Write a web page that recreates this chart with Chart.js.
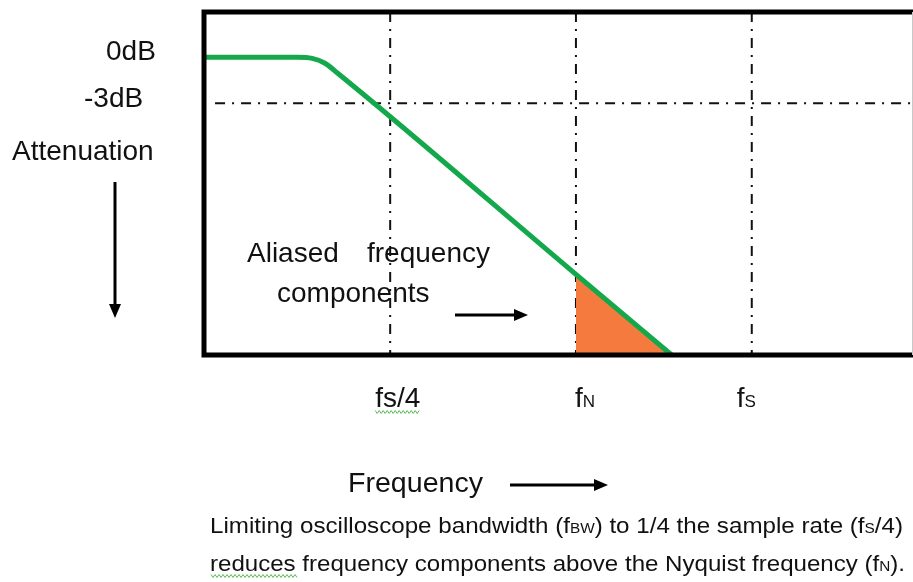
<!DOCTYPE html>
<html>
<head>
<meta charset="utf-8">
<script src="https://cdn.jsdelivr.net/npm/chart.js@4.4.1/dist/chart.umd.min.js"></script>
<style>
  html, body { margin: 0; padding: 0; background: #fff; }
  canvas { display: block; }
</style>
</head>
<body>
<canvas id="chart" width="913" height="582"></canvas>
<script>
// data (x: frequency in arbitrary units, y: attenuation in dB)
const freqTicks = [26.4, 52.6, 77.4];          // fs/4, fN, fs
const tickLabels = ["fs/4", "f{N}", "f{S}"];
const responseX = [0, 13.3, 15.4, 17.2, 19, 52.6, 66.1];
const responseDb = [0, 0, -0.07, -0.39, -1.04, -14.15, -19.4];
const aliasX = [52.6, 66.1];
const aliasDb = [-14.15, -19.4];
const cutoffDb = -3;
const levelLabels = ["0dB", "-3dB"];
const yMin = -19.4, yMax = 2.95;

const FONT = '"Liberation Sans", Arial, sans-serif';
const GREEN = "#13a84b";
const ORANGE = "#f47b3d";

const toPts = (xs, ys) => xs.map((x, i) => ({ x: x, y: ys[i] }));

// text with {small} parts, optionally squeezed to a width
function drawRich(ctx, str, x, y, big, small, width) {
  const runs = [];
  str.split(/(\{[^}]*\})/).forEach(s => {
    if (!s) return;
    if (s[0] === "{") runs.push({ t: s.slice(1, -1), size: small });
    else runs.push({ t: s, size: big });
  });
  let total = 0;
  runs.forEach(r => {
    ctx.font = r.size + "px " + FONT;
    r.w = ctx.measureText(r.t).width;
    total += r.w;
  });
  ctx.save();
  ctx.translate(x, y);
  if (width) ctx.scale(width / total, 1);
  let cx = 0;
  runs.forEach(r => {
    ctx.font = r.size + "px " + FONT;
    ctx.fillText(r.t, cx, 0);
    cx += r.w;
  });
  ctx.restore();
  return width || total;
}

function squiggle(ctx, x0, x1, y) {
  ctx.save();
  ctx.strokeStyle = "#5cb85c";
  ctx.lineWidth = 1;
  ctx.beginPath();
  for (let x = x0, k = 0; x <= x1; x += 2, k++) {
    const yy = y + (k % 2 ? 1.5 : -1.5);
    if (k === 0) ctx.moveTo(x, yy); else ctx.lineTo(x, yy);
  }
  ctx.stroke();
  ctx.restore();
}

function arrow(ctx, x0, y0, x1, y1) {
  const a = Math.atan2(y1 - y0, x1 - x0);
  ctx.save();
  ctx.strokeStyle = "#000";
  ctx.fillStyle = "#000";
  ctx.lineWidth = 3;
  ctx.beginPath();
  ctx.moveTo(x0, y0);
  ctx.lineTo(x1 - 12 * Math.cos(a), y1 - 12 * Math.sin(a));
  ctx.stroke();
  ctx.translate(x1, y1);
  ctx.rotate(a);
  ctx.beginPath();
  ctx.moveTo(0, 0);
  ctx.lineTo(-14, -6);
  ctx.lineTo(-14, 6);
  ctx.closePath();
  ctx.fill();
  ctx.restore();
}

const decorations = {
  id: "decorations",
  afterDraw(chart) {
    const ctx = chart.ctx;
    const area = chart.chartArea;
    const xs = chart.scales.x;

    // frame
    ctx.save();
    ctx.strokeStyle = "#000";
    ctx.lineWidth = 5;
    ctx.beginPath();
    ctx.moveTo(913, area.top);
    ctx.lineTo(area.left + 1, area.top);
    ctx.lineTo(area.left + 1, area.bottom);
    ctx.lineTo(913, area.bottom);
    ctx.stroke();
    ctx.strokeStyle = "#c8c8c8";
    ctx.lineWidth = 1;
    ctx.beginPath();
    ctx.moveTo(912.5, area.top);
    ctx.lineTo(912.5, area.bottom);
    ctx.stroke();
    ctx.restore();

    ctx.save();
    ctx.fillStyle = "#111";
    ctx.textBaseline = "alphabetic";

    // left side labels
    ctx.font = "28px " + FONT;
    ctx.fillText(levelLabels[0], 106, 60);
    ctx.fillText(levelLabels[1], 84, 107);
    ctx.fillText("Attenuation", 12, 160);
    arrow(ctx, 115, 182, 115, 318);

    // annotation
    ctx.fillText("Aliased", 247, 262);
    ctx.fillText("frequency", 367, 262);
    ctx.fillText("components", 277, 302);
    arrow(ctx, 455, 315, 528, 315);

    // frequency tick labels
    const dx = [-15, -1, -15];
    freqTicks.forEach((v, i) => {
      const px = xs.getPixelForValue(v) + dx[i];
      const w = drawRich(ctx, tickLabels[i], px, 407, 28, 17);
      if (i === 0) squiggle(ctx, px, px + w, 412);
    });

    // x axis title
    drawRich(ctx, "Frequency", 348, 492, 28, 17, 135);
    arrow(ctx, 510, 485, 608, 485);

    // caption
    drawRich(ctx, "Limiting oscilloscope bandwidth (f{BW}) to 1/4 the sample rate (f{S}/4)",
      210, 533, 22, 14, 693);
    drawRich(ctx, "reduces frequency components above the Nyquist frequency (f{N}).",
      210, 571, 22, 14, 695);
    squiggle(ctx, 211, 297, 576);
    ctx.restore();
  }
};

const dash = { borderColor: "#111", borderWidth: 2, borderDash: [10, 7, 2, 7], pointRadius: 0, fill: false };

new Chart(document.getElementById("chart"), {
  type: "line",
  data: {
    datasets: [
      {
        data: toPts(responseX, responseDb),
        borderColor: GREEN,
        borderWidth: 5,
        borderCapStyle: "round",
        cubicInterpolationMode: "monotone",
        pointRadius: 0,
        fill: false
      },
      {
        data: toPts(aliasX, aliasDb),
        borderWidth: 0,
        borderColor: ORANGE,
        backgroundColor: ORANGE,
        pointRadius: 0,
        fill: { value: yMin }
      },
      ...freqTicks.map(v => Object.assign({ data: [{ x: v, y: yMax }, { x: v, y: yMin }] }, dash)),
      Object.assign({ data: [{ x: 1.7, y: cutoffDb }, { x: 100, y: cutoffDb }] }, dash)
    ]
  },
  options: {
    responsive: false,
    animation: false,
    devicePixelRatio: 1,
    layout: { padding: { left: 203, top: 12, right: 1, bottom: 227 } },
    plugins: { legend: { display: false }, tooltip: { enabled: false } },
    scales: {
      x: { type: "linear", min: 0, max: 100, display: false },
      y: { min: yMin, max: yMax, display: false }
    }
  },
  plugins: [decorations]
});
</script>
</body>
</html>
